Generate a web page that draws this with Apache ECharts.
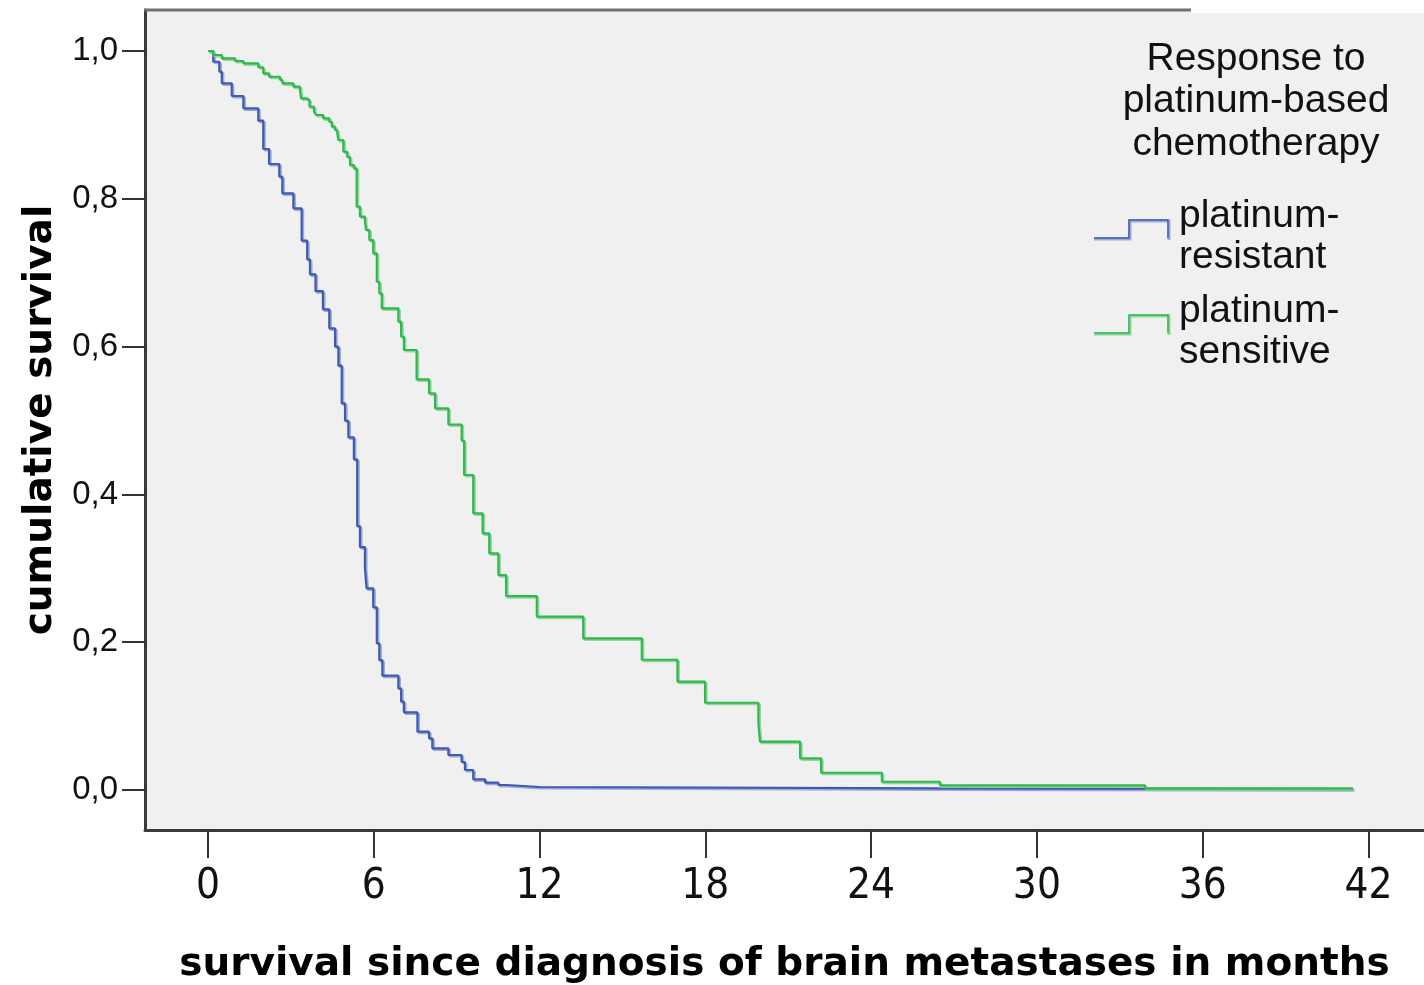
<!DOCTYPE html>
<html>
<head>
<meta charset="utf-8">
<script src="https://cdn.jsdelivr.net/npm/echarts@6/dist/echarts.min.js"></script>
<style>
html,body{margin:0;padding:0;background:#ffffff;}
#chart{width:1424px;height:985px;}
</style>
</head>
<body>
<div id="chart"></div>
<script>
// ---- data ----
const xTicks = [0, 6, 12, 18, 24, 30, 36, 42];
const yTicks = [0, 0.2, 0.4, 0.6, 0.8, 1.0];

const resistantTime = [0, 0.19, 0.41, 0.50, 0.86, 1.28, 1.82, 2.00, 2.21, 2.58, 2.69, 3.09, 3.39, 3.59, 3.69, 3.89, 4.16, 4.39, 4.60, 4.72, 4.84, 4.96, 5.08, 5.28, 5.40, 5.50, 5.68, 5.74, 5.98, 6.11, 6.20, 6.31, 6.89, 6.99, 7.09, 7.58, 8.00, 8.12, 8.70, 9.18, 9.30, 9.60, 10.03, 10.51, 10.81, 12.0, 26.5, 41.44];
const resistantSurv = [1.0, 0.9855, 0.9720, 0.9563, 0.9391, 0.9225, 0.9057, 0.8674, 0.8471, 0.8299, 0.8074, 0.7871, 0.7433, 0.7181, 0.6978, 0.6752, 0.6505, 0.6248, 0.5999, 0.5742, 0.5233, 0.4997, 0.4773, 0.4475, 0.3572, 0.3288, 0.3000, 0.2729, 0.2472, 0.1985, 0.1759, 0.1547, 0.1376, 0.1195, 0.1051, 0.0789, 0.0700, 0.0564, 0.0474, 0.0379, 0.0271, 0.0145, 0.0099, 0.0068, 0.0041, 0.0023, 0.0012, 0.0012];

const sensitiveTime = [0, 0.18, 0.50, 0.98, 1.28, 1.82, 2.00, 2.21, 2.61, 2.69, 3.09, 3.33, 3.37, 3.57, 3.67, 3.84, 3.91, 4.17, 4.39, 4.48, 4.60, 4.68, 4.72, 4.90, 5.04, 5.14, 5.28, 5.38, 5.50, 5.68, 5.72, 5.84, 5.98, 6.11, 6.20, 6.29, 6.89, 6.99, 7.09, 7.55, 8.00, 8.22, 8.70, 9.18, 9.27, 9.60, 9.94, 10.18, 10.51, 10.79, 11.90, 13.58, 15.70, 16.99, 17.99, 19.92, 19.98, 21.43, 22.19, 24.39, 26.49, 33.91, 41.44];
const sensitiveSurv = [1.0, 0.9946, 0.9901, 0.9865, 0.9834, 0.9780, 0.9698, 0.9652, 0.9608, 0.9563, 0.9517, 0.9472, 0.9360, 0.9337, 0.9246, 0.9179, 0.9134, 0.9089, 0.9043, 0.8976, 0.8931, 0.8886, 0.8796, 0.8637, 0.8566, 0.8457, 0.8413, 0.7893, 0.7758, 0.7690, 0.7578, 0.7442, 0.7262, 0.6878, 0.6721, 0.6518, 0.6337, 0.6134, 0.5954, 0.5557, 0.5368, 0.5165, 0.4946, 0.4729, 0.4263, 0.3744, 0.3474, 0.3203, 0.2909, 0.2625, 0.2345, 0.2053, 0.1763, 0.1466, 0.1181, 0.0903, 0.0654, 0.0429, 0.0234, 0.0112, 0.0064, 0.0023, 0.0023];

const seriesNames = ['platinum-resistant', 'platinum-sensitive'];
const legendTitle = ['Response to', 'platinum-based', 'chemotherapy'];
const legendLabels = [['platinum-', 'resistant'], ['platinum-', 'sensitive']];
const xTitle = 'survival since diagnosis of brain metastases in months';
const yTitle = 'cumulative survival';

// ---- build ----
const pairs = (t, s) => t.map((v, i) => [v, s[i]]);
const blue = '#3f5ab0', blueLight = 'rgba(140,158,212,0.85)';
const green = '#2fb84b', greenLight = 'rgba(130,208,148,0.85)';

const chart = echarts.init(document.getElementById('chart'), null, {renderer: 'canvas'});

const legendFont = '39px "Liberation Sans", Arial, sans-serif';
const graphics = [
  {type: 'rect', shape: {x: 1191, y: 0, width: 233, height: 13}, style: {fill: '#ffffff'}, z: 100},
  {type: 'line', shape: {x1: 144, y1: 10, x2: 1191, y2: 10}, style: {stroke: '#707070', lineWidth: 3}, z: 101},
];
legendTitle.forEach((t, i) => {
  graphics.push({type: 'text', x: 1256, y: 59 + i * 42.5, z: 102,
    style: {text: t, font: legendFont, fill: '#111', textAlign: 'center', textVerticalAlign: 'middle'}});
});
const legendY = [229, 324];
const legendCols = [[blue, blueLight], [green, greenLight]];
legendY.forEach((yc, i) => {
  const low = yc + 9, high = yc - 9;
  graphics.push({type: 'polyline', z: 102,
    shape: {points: [[1094, low + 1], [1130, low + 1], [1130, high + 1], [1169, high + 1], [1169, low + 2]]},
    style: {stroke: legendCols[i][1], lineWidth: 3, fill: null}});
  graphics.push({type: 'polyline', z: 103,
    shape: {points: [[1094, low], [1129, low], [1129, high], [1168, high], [1168, low]]},
    style: {stroke: legendCols[i][0], lineWidth: 1.5, fill: null}});
  legendLabels[i].forEach((t, j) => {
    graphics.push({type: 'text', x: 1179, y: yc - 13 + j * 41, z: 102,
      style: {text: t, font: legendFont, fill: '#111', textAlign: 'left', textVerticalAlign: 'middle'}});
  });
});

const mkSeries = (name, data, col, light) => ({
  name, type: 'line', step: 'end', data, showSymbol: false, symbol: 'none',
  lineStyle: {color: col, width: 2.2, shadowColor: light, shadowBlur: 0, shadowOffsetX: 1.5, shadowOffsetY: 1.5},
  animation: false, silent: true
});

chart.setOption({
  animation: false,
  backgroundColor: '#ffffff',
  grid: {left: 145, top: 10, right: 0, bottom: 155, show: true, backgroundColor: '#f0f0f0', borderWidth: 0,
    containLabel: false, outerBoundsMode: 'none'},
  xAxis: {
    type: 'value', min: -2.28, max: 44.01,
    name: xTitle, nameLocation: 'middle', nameGap: 115,
    nameTextStyle: {fontFamily: 'DejaVu Sans', fontWeight: 'bold', fontSize: 39, color: '#000'},
    axisLine: {show: true, onZero: false, lineStyle: {color: '#3a3a3a', width: 3}},
    axisTick: {show: true, length: 28, customValues: xTicks, lineStyle: {color: '#333', width: 2}},
    axisLabel: {customValues: xTicks, margin: 36, fontFamily: '"Liberation Sans Narrow", "DejaVu Sans Condensed", "Liberation Sans"', fontSize: 42, color: '#111'},
    splitLine: {show: false}
  },
  yAxis: {
    type: 'value', min: -0.0541, max: 1.0555,
    name: yTitle, nameLocation: 'middle', nameGap: 85,
    nameTextStyle: {fontFamily: 'DejaVu Sans', fontWeight: 'bold', fontSize: 39, color: '#000'},
    axisLine: {show: true, onZero: false, lineStyle: {color: '#3a3a3a', width: 3}},
    axisTick: {show: true, length: 23, customValues: yTicks, lineStyle: {color: '#333', width: 2}},
    axisLabel: {customValues: yTicks, margin: 27, fontFamily: '"Liberation Sans", Arial', fontSize: 33, color: '#111',
      formatter: v => v.toFixed(1).replace('.', ',')},
    splitLine: {show: false}
  },
  series: [
    mkSeries(seriesNames[0], pairs(resistantTime, resistantSurv), blue, blueLight),
    mkSeries(seriesNames[1], pairs(sensitiveTime, sensitiveSurv), green, greenLight)
  ],
  graphic: graphics
});
</script>
</body>
</html>
